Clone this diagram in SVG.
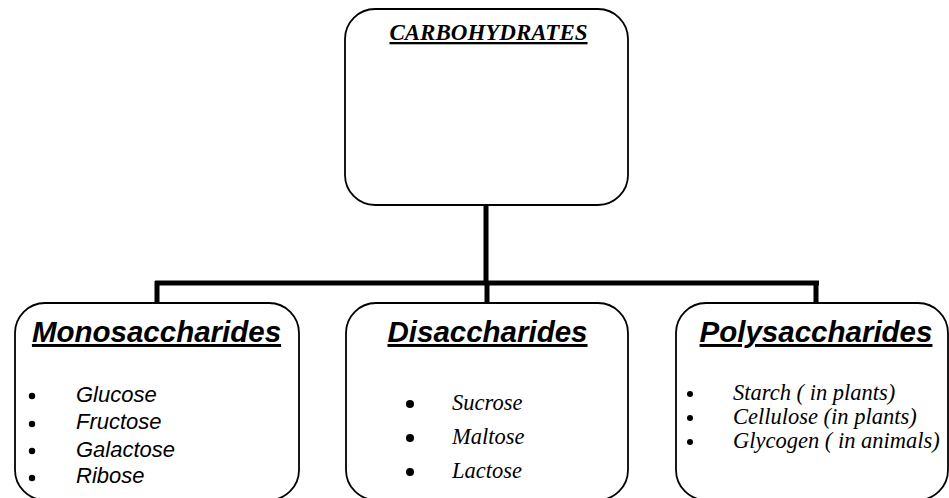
<svg xmlns="http://www.w3.org/2000/svg" width="949" height="498" viewBox="0 0 949 498">
<style>
.box{fill:#fff;stroke:#000;stroke-width:1.8}
.conn{fill:none;stroke:#000;stroke-width:5;stroke-linecap:butt}
.h{font-family:"Liberation Sans",Arial,sans-serif;font-weight:bold;font-style:italic;font-size:29.5px;text-decoration:underline}
.top{font-family:"Liberation Serif","Times New Roman",serif;font-weight:bold;font-style:italic;font-size:23px;text-decoration:underline}
.ls{font-family:"Liberation Sans",Arial,sans-serif;font-style:italic;font-size:22px}
.lt{font-family:"Liberation Serif","Times New Roman",serif;font-style:italic;font-size:22.5px}
</style>
<rect width="949" height="498" fill="#fff"/>
<g id="connectors">
<path class="conn" d="M486 205 V283 M155 283 H819 M157 281 V303 M487 283 V303 M816 281 V303"/>
</g>
<g id="carbohydrates">
<rect class="box" x="345" y="9" width="283" height="196" rx="30"/>
<text class="top" x="488.5" y="40" text-anchor="middle">CARBOHYDRATES</text>
</g>
<g id="monosaccharides">
<rect class="box" x="15" y="303" width="284" height="197" rx="30"/>
<text class="h" x="156.5" y="342" text-anchor="middle">Monosaccharides</text>
<g fill="#000"><circle cx="32" cy="396" r="3.2"/><circle cx="32" cy="424" r="3.2"/><circle cx="32" cy="451" r="3.2"/><circle cx="32" cy="478" r="3.2"/></g>
<text class="ls" x="76" y="402">Glucose</text>
<text class="ls" x="76" y="429">Fructose</text>
<text class="ls" x="76" y="457">Galactose</text>
<text class="ls" x="76" y="483">Ribose</text>
</g>
<g id="disaccharides">
<rect class="box" x="346" y="303" width="282" height="197" rx="30"/>
<text class="h" x="487.5" y="342" text-anchor="middle">Disaccharides</text>
<g fill="#000"><circle cx="410" cy="404" r="4"/><circle cx="410" cy="438" r="4"/><circle cx="410" cy="472" r="4"/></g>
<text class="lt" x="452" y="410">Sucrose</text>
<text class="lt" x="452" y="444">Maltose</text>
<text class="lt" x="452" y="478">Lactose</text>
</g>
<g id="polysaccharides">
<rect class="box" x="676" y="303" width="272" height="197" rx="30"/>
<text class="h" x="816" y="342" text-anchor="middle">Polysaccharides</text>
<g fill="#000"><circle cx="690" cy="394" r="3"/><circle cx="690" cy="418" r="3"/><circle cx="690" cy="442" r="3"/></g>
<text class="lt" x="733" y="400">Starch ( in plants)</text>
<text class="lt" x="733" y="424">Cellulose (in plants)</text>
<text class="lt" x="733" y="448">Glycogen ( in animals)</text>
</g>
</svg>
